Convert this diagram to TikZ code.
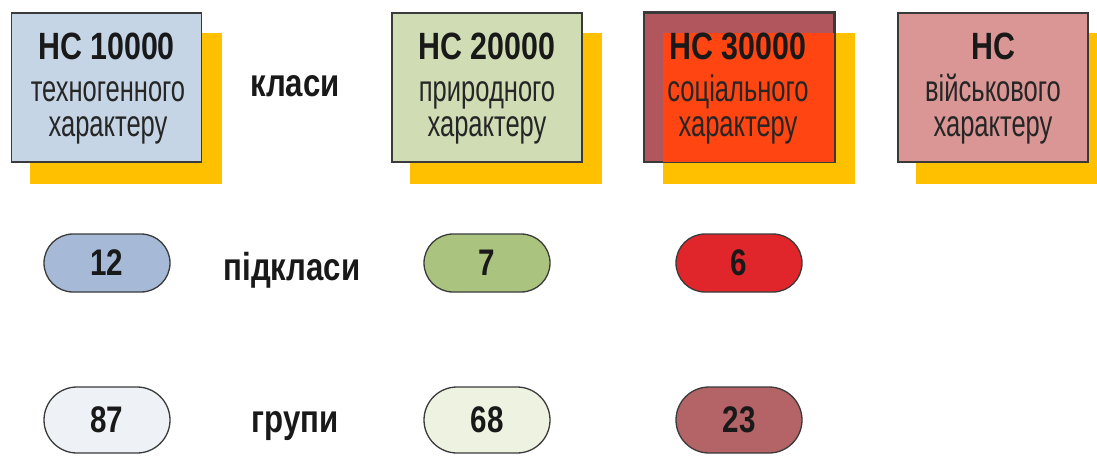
\documentclass[tikz,border=0pt]{standalone}
\usepackage{fontspec}
\setmainfont{Liberation Sans}
\newfontfamily\narrowfont{Liberation Sans}[FakeStretch=0.8]
\newfontfamily\subnarrowfont{Liberation Sans}[FakeStretch=0.69]
\usetikzlibrary{shapes.misc}
\definecolor{shadowyellow}{HTML}{FFC000}
\definecolor{edgegray}{HTML}{3A3A3A}
\definecolor{inkgray}{HTML}{262626}
\definecolor{boxblue}{HTML}{C6D5E6}
\definecolor{boxgreen}{HTML}{D0DDB4}
\definecolor{boxbrown}{HTML}{B0565C}
\definecolor{boxorange}{HTML}{FF4512}
\definecolor{boxpink}{HTML}{D99694}
\definecolor{pillblue}{HTML}{A6B9D6}
\definecolor{pillgreen}{HTML}{AAC47F}
\definecolor{pillred}{HTML}{E0262A}
\definecolor{pillpaleblue}{HTML}{EEF1F6}
\definecolor{pillpalegreen}{HTML}{EEF2E0}
\definecolor{pillrose}{HTML}{B46466}
\tikzset{
  frontbox/.style={draw=edgegray, line width=1.5pt, minimum width=190pt, minimum height=149pt, inner sep=0pt},
  shadowbox/.style={fill=shadowyellow, draw=none, minimum width=192pt, minimum height=151pt, inner sep=0pt},
  titletext/.style={anchor=base, inner sep=0pt, text=black!90, font=\narrowfont\bfseries\fontsize{38}{40}\selectfont},
  subtext/.style={anchor=base, inner sep=0pt, text=inkgray, font=\subnarrowfont\fontsize{37}{39}\selectfont},
  labeltext/.style={anchor=base, inner sep=0pt, text=black!90, font=\narrowfont\bfseries\fontsize{39}{41}\selectfont},
  pill/.style={rounded rectangle, draw=edgegray, line width=1.3pt, minimum width=126pt, inner sep=0pt,
    text=black!90, font=\narrowfont\bfseries\fontsize{37}{39}\selectfont},
  pilltwo/.style={pill, minimum height=58pt},
  pillthree/.style={pill, minimum height=66pt},
}
\begin{document}
\begin{tikzpicture}[x=1pt, y=-1pt]
\clip (0,0) rectangle (1097,457);
\fill[white] (0,0) rectangle (1097,457);
% shadows
\node[shadowbox] (s1) at (126,108.5) {};
\node[shadowbox] (s2) at (506,108.5) {};
\node[shadowbox] (s3) at (759,108.5) {};
\node[shadowbox] (s4) at (1012,108.5) {};
% front boxes
\node[frontbox, fill=boxblue] (b1) at (106.5,87.5) {};
\node[frontbox, fill=boxgreen] (b2) at (487,87.5) {};
\node[frontbox, fill=boxbrown] (b3) at (739,87.5) {};
\fill[boxorange] (s3.north west) rectangle (b3.south east);
\draw[edgegray, line width=1.5pt] (b3.north west) rectangle (b3.south east);
\node[frontbox, fill=boxpink] (b4) at (993,87.5) {};
% box texts
\node[titletext] (t1a) at (106.5,60) {НС 10000};
\node[subtext] (t1b) at (108,102) {техногенного};
\node[subtext] (t1c) at (108,137) {характеру};
\node[titletext] (t2a) at (487,60) {НС 20000};
\node[subtext] (t2b) at (487,102) {природного};
\node[subtext] (t2c) at (487,137) {характеру};
\node[titletext] (t3a) at (738,60) {НС 30000};
\node[subtext] (t3b) at (738,102) {соціального};
\node[subtext] (t3c) at (738,137) {характеру};
\node[titletext] (t4a) at (993,60) {НС};
\node[subtext] (t4b) at (993,102) {військового};
\node[subtext] (t4c) at (993,137) {характеру};
% row labels
\node[labeltext] (l1) at (295,97) {класи};
\node[labeltext] (l2) at (292,280) {підкласи};
\node[labeltext] (l3) at (295,432) {групи};
% pills
\node[pilltwo, fill=pillblue] (p12) at (107,263) {12};
\node[pilltwo, fill=pillgreen] (p7) at (487,263) {7};
\node[pilltwo, fill=pillred] (p6) at (739,263) {6};
\node[pillthree, fill=pillpaleblue] (p87) at (107,420) {87};
\node[pillthree, fill=pillpalegreen] (p68) at (487,420) {68};
\node[pillthree, fill=pillrose] (p23) at (739,420) {23};
\end{tikzpicture}
\end{document}
